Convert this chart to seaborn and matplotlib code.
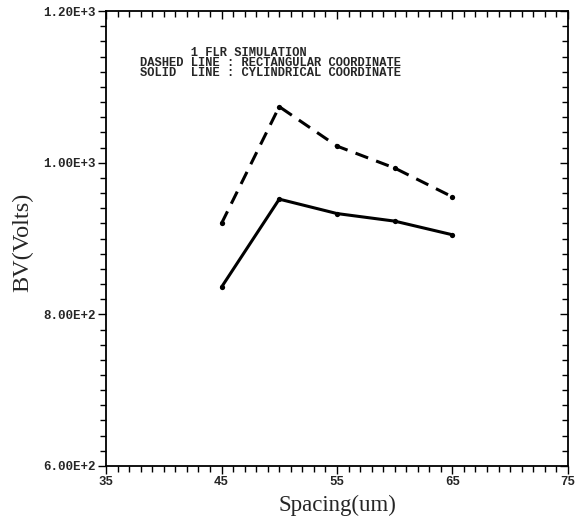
import matplotlib
matplotlib.use("Agg")
import matplotlib.pyplot as plt
import seaborn as sns
import pandas as pd
from matplotlib.ticker import MultipleLocator, FixedLocator, FixedFormatter

spacing = [45, 50, 55, 60, 65]
bv_rect = [920, 1074, 1022, 993, 955]
bv_cyl = [836, 952, 933, 923, 905]

x_ticks = [35, 45, 55, 65, 75]
x_ticklabels = ["35", "45", "55", "65", "75"]
y_ticks = [600, 800, 1000, 1200]
y_ticklabels = ["6.00E+2", "8.00E+2", "1.00E+3", "1.20E+3"]

notes = ["       1 FLR SIMULATION",
         "DASHED LINE : RECTANGULAR COORDINATE",
         "SOLID  LINE : CYLINDRICAL COORDINATE"]

sns.set_style("white")
plt.rcParams['font.family'] = ['DejaVu Sans']

df = pd.DataFrame({
    "Spacing": spacing * 2,
    "BV": bv_rect + bv_cyl,
    "coord": ["rect"] * len(spacing) + ["cyl"] * len(spacing),
})

fig = plt.figure(figsize=(5.83, 5.21), dpi=100)
ax = fig.add_axes([0.182, 0.1056, 0.792, 0.873])

sns.lineplot(data=df, x="Spacing", y="BV", style="coord",
             dashes={"rect": (4.4, 2.8), "cyl": ""}, color="black",
             linewidth=2.2, marker="o", markersize=3.8, markeredgewidth=0,
             legend=False, ax=ax)

ax.set_xlim(35, 75)
ax.set_ylim(600, 1200)

ax.xaxis.set_major_locator(FixedLocator(x_ticks))
ax.xaxis.set_major_formatter(FixedFormatter(x_ticklabels))
ax.xaxis.set_minor_locator(MultipleLocator(1))
ax.yaxis.set_major_locator(FixedLocator(y_ticks))
ax.yaxis.set_major_formatter(FixedFormatter(y_ticklabels))
ax.yaxis.set_minor_locator(MultipleLocator(20))

for s in ax.spines.values():
    s.set_linewidth(1.3)
    s.set_color("black")

ax.tick_params(axis="both", which="both", color="black", width=1.0)
ax.tick_params(axis="both", which="major", length=5.5)
ax.tick_params(axis="both", which="minor", length=4)
ax.tick_params(axis="x", which="both", direction="out", bottom=True, top=False, pad=1.5)
ax.tick_params(axis="y", which="both", direction="out", left=True, right=False, pad=2)

axt = ax.secondary_xaxis("top")
axt.xaxis.set_major_locator(FixedLocator(x_ticks))
axt.xaxis.set_minor_locator(MultipleLocator(1))
axt.tick_params(axis="x", which="both", direction="in", labeltop=False, color="black", width=1.0)
axt.tick_params(which="major", length=5.5)
axt.tick_params(which="minor", length=4)
axt.spines["top"].set_visible(False)
axr = ax.secondary_yaxis("right")
axr.yaxis.set_major_locator(FixedLocator(y_ticks))
axr.yaxis.set_minor_locator(MultipleLocator(20))
axr.tick_params(axis="y", which="both", direction="in", labelright=False, color="black", width=1.0)
axr.tick_params(which="major", length=5.5)
axr.tick_params(which="minor", length=4)
axr.spines["right"].set_visible(False)

for lab in ax.get_xticklabels() + ax.get_yticklabels():
    lab.set_fontfamily("Liberation Mono")
    lab.set_fontweight("bold")
    lab.set_fontsize(9)

ax.set_xlabel("Spacing(um)", family="Liberation Serif", fontsize=16.5, va="top")
ax.xaxis.set_label_coords(0.5, -0.064)
ax.set_ylabel("BV(Volts)", family="Liberation Serif", fontsize=17.5)
ax.yaxis.set_label_coords(-0.158, 0.491)

ax.text(37.9, 1153, "\n".join(notes), family="Liberation Mono", fontweight="bold",
        fontsize=8.7, va="top", ha="left", linespacing=0.8)

fig.savefig("out.png", dpi=100, facecolor="white")
